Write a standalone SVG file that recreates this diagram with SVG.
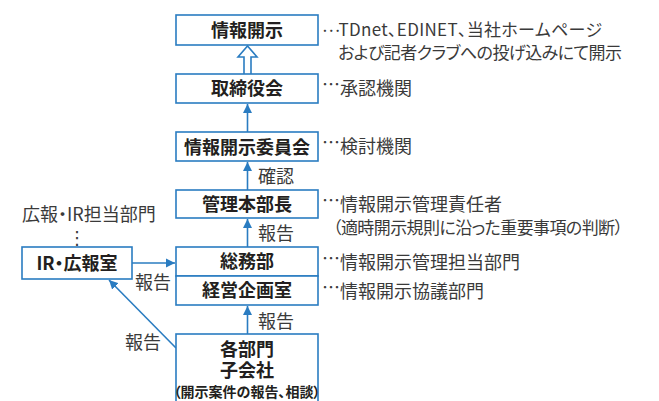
<svg xmlns="http://www.w3.org/2000/svg" width="659" height="401" viewBox="0 0 659 401">
<style>
.box{fill:#fff;stroke:#2a7cc1;stroke-width:1.6}
.bt{font-family:"Noto Sans CJK JP","Noto Sans",sans-serif;font-weight:700;font-size:18px;fill:#231f20;text-anchor:middle;font-feature-settings:"palt"}
.st{font-family:"Noto Sans CJK JP","Noto Sans",sans-serif;font-weight:400;font-size:18px;fill:#3a3a3a;font-feature-settings:"palt"}
.sm{font-size:17px}
.ln{stroke:#2a7cc1;stroke-width:1.6;fill:none}
</style>
<defs>
<marker id="ah" markerWidth="10" markerHeight="10" refX="9" refY="5" orient="auto" markerUnits="userSpaceOnUse">
<path d="M0,0.5 L9,5 L0,9.5 Z" fill="#2a7cc1"/>
</marker>
</defs>
<g id="connectors">
<path class="ln" d="M244,74 V57 H238 L247.5,46 L257,57 H251 V74" style="fill:#fff"/>
<line class="ln" x1="247.5" y1="132" x2="247.5" y2="104" marker-end="url(#ah)"/>
<line class="ln" x1="247.5" y1="190" x2="247.5" y2="162" marker-end="url(#ah)"/>
<line class="ln" x1="247.5" y1="247" x2="247.5" y2="219" marker-end="url(#ah)"/>
<line class="ln" x1="247.5" y1="334" x2="247.5" y2="306" marker-end="url(#ah)"/>
<line class="ln" x1="132" y1="263" x2="175" y2="263" marker-end="url(#ah)"/>
<line class="ln" x1="176" y1="348" x2="109" y2="280" marker-end="url(#ah)"/>
<text class="st" x="258" y="183">確認</text>
<text class="st" x="258" y="240">報告</text>
<text class="st" x="258" y="328">報告</text>
<text class="st" x="135" y="289">報告</text>
<text class="st" x="125" y="349">報告</text>
</g>
<g id="n1">
<rect class="box" x="176" y="15" width="142" height="30"/>
<text class="bt" x="247" y="36.5">情報開示</text>
<text class="st sm" x="322" y="36" textLength="280" lengthAdjust="spacing"><tspan dy="-4">…</tspan><tspan dy="4">TDnet、EDINET、当社ホームページ</tspan></text>
<text class="st sm" x="338" y="59" textLength="284" lengthAdjust="spacing">および記者クラブへの投げ込みにて開示</text>
</g>
<g id="n2">
<rect class="box" x="176" y="74" width="142" height="29"/>
<text class="bt" x="247" y="95">取締役会</text>
<text class="st" x="322" y="95"><tspan dy="-4">…</tspan><tspan dy="4">承認機関</tspan></text>
</g>
<g id="n3">
<rect class="box" x="176" y="132" width="142" height="29"/>
<text class="bt" x="247" y="153.5">情報開示委員会</text>
<text class="st" x="322" y="153"><tspan dy="-4">…</tspan><tspan dy="4">検討機関</tspan></text>
</g>
<g id="n4">
<rect class="box" x="176" y="190" width="142" height="28"/>
<text class="bt" x="247" y="210.5">管理本部長</text>
<text class="st" x="322" y="211"><tspan dy="-4">…</tspan><tspan dy="4">情報開示管理責任者</tspan></text>
<text class="st sm" x="333" y="234" textLength="290" lengthAdjust="spacing">（適時開示規則に沿った重要事項の判断）</text>
</g>
<g id="n5">
<rect class="box" x="176" y="247" width="142" height="29"/>
<text class="bt" x="247" y="268">総務部</text>
<text class="st" x="322" y="269"><tspan dy="-4">…</tspan><tspan dy="4">情報開示管理担当部門</tspan></text>
</g>
<g id="n6">
<rect class="box" x="176" y="276" width="142" height="29"/>
<text class="bt" x="247" y="297">経営企画室</text>
<text class="st" x="322" y="298"><tspan dy="-4">…</tspan><tspan dy="4">情報開示協議部門</tspan></text>
</g>
<g id="n7">
<rect class="box" x="176" y="334" width="142" height="80"/>
<text class="bt"><tspan x="247" y="356">各部門</tspan><tspan x="247" y="377">子会社</tspan><tspan x="247" y="397" style="font-size:14px">（開示案件の報告、相談）</tspan></text>
</g>
<g id="n8">
<rect class="box" x="22" y="247" width="110" height="32"/>
<text class="bt" x="77" y="269.5">IR・広報室</text>
<text class="st" x="22" y="221">広報・IR担当部門</text>
<text x="77" y="244" style="font-family:'DejaVu Sans',sans-serif;font-size:18px;fill:#3a3a3a;text-anchor:middle">⋮</text>
</g>
</svg>
